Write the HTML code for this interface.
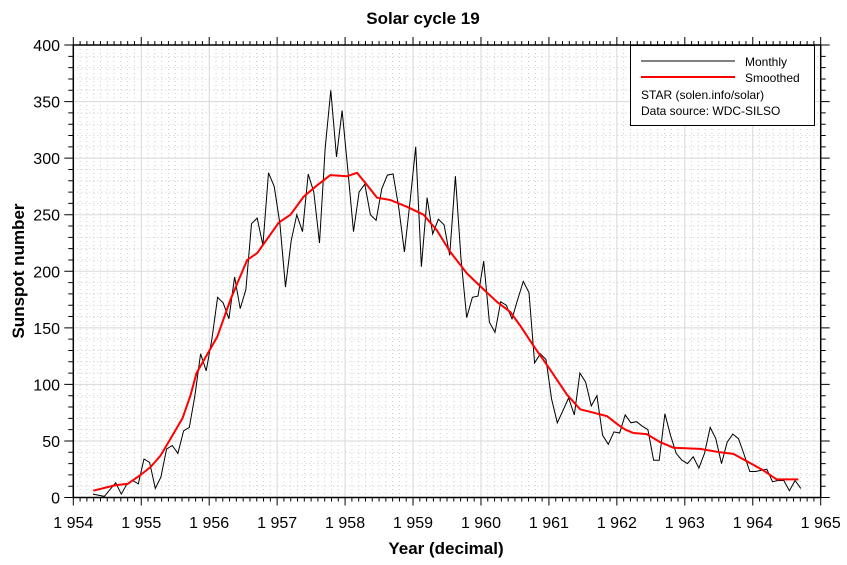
<!DOCTYPE html>
<html><head><meta charset="utf-8"><style>
body{margin:0;background:#fff;}
svg{display:block;font-family:"Liberation Sans",sans-serif;}
</style></head><body>
<svg id="chart" width="847" height="565" viewBox="0 0 847 565" xmlns="http://www.w3.org/2000/svg">
<text x="423" y="24" text-anchor="middle" font-size="17" font-weight="bold">Solar cycle 19</text>
<g id="grid"></g>
<g id="axes"></g>
<g id="series"></g>
<text x="446" y="554" text-anchor="middle" font-size="17" font-weight="bold">Year (decimal)</text>
<text transform="translate(24,271) rotate(-90)" text-anchor="middle" font-size="17" font-weight="bold">Sunspot number</text>
<g>
<rect x="630.5" y="45.5" width="184" height="80" fill="#fff" stroke="#000" stroke-width="1"/>
<line x1="641" y1="61" x2="735" y2="61" stroke="#000" stroke-width="1"/>
<text x="745" y="66" font-size="12">Monthly</text>
<line x1="641" y1="77" x2="735" y2="77" stroke="#f00" stroke-width="2"/>
<text x="745" y="82" font-size="12">Smoothed</text>
<text x="641" y="99" font-size="12">STAR (solen.info/solar)</text>
<text x="641" y="115" font-size="12">Data source: WDC-SILSO</text>
</g>
</svg>
<script>
const monthlyFirstYear = 1954.29;
const monthsPerYear = 12;
const monthlyValues = [3,2,1,7,13,3,12,15,12,34,31,8,18,43,46,39,59,62,90,127,112,140,177,172,158,195,167,184,242,247,223,287,275,242,186,227,250,235,286,270,225,309,360,301,342,290,235,270,277,250,245,273,285,286,256,217,262,310,204,265,233,246,241,214,284,211,159,177,178,209,155,146,173,170,158,175,191,181,119,127,122,87,66,77,88,73,110,102,81,90,55,47,58,57,73,66,67,63,60,33,33,74,55,39,33,30,36,26,39,62,52,30,49,56,52,38,23,23,24,25,14,15,15,6,15,8];
const smoothYears = [1954.294,1954.622,1954.799,1954.990,1955.137,1955.284,1955.431,1955.607,1955.724,1955.813,1956.118,1956.313,1956.559,1956.706,1957.024,1957.196,1957.391,1957.588,1957.784,1958.029,1958.176,1958.299,1958.471,1958.666,1958.912,1959.156,1959.353,1959.549,1959.794,1960.038,1960.235,1960.431,1960.578,1960.774,1961.019,1961.265,1961.460,1961.656,1961.853,1962.024,1962.122,1962.244,1962.441,1962.637,1962.832,1963.225,1963.519,1963.715,1963.912,1964.156,1964.353,1964.671];
const smoothValues = [6,11,12,20,27,37,52,70,90,110,142,175,210,216,243,250,266,276,285,284,287,278,265,263,257,250,236,217,198,184,173,164,152,134,113,91,78,75,72,64,60,57,56,49,44,43,40,38.5,32,24,16,16];
const xTickLabels = ["1 954","1 955","1 956","1 957","1 958","1 959","1 960","1 961","1 962","1 963","1 964","1 965"];
const yTickLabels = ["0","50","100","150","200","250","300","350","400"];

const NS="http://www.w3.org/2000/svg";
const L=73.3,R=820.7,T=45,B=497.5,X0=1954,X1=1965,Y0=0,Y1=400;
function xs(v){return L+(v-X0)/(X1-X0)*(R-L);}
function ys(v){return B-(v-Y0)/(Y1-Y0)*(B-T);}
function mk(tag,attrs,parent){const e=document.createElementNS(NS,tag);for(const k in attrs)e.setAttribute(k,attrs[k]);parent.appendChild(e);return e;}
const grid=document.getElementById('grid'),axes=document.getElementById('axes'),series=document.getElementById('series');
mk('rect',{x:L,y:T,width:R-L,height:B-T,fill:'#fff'},grid);
for(let i=1;i<110;i++){if(i%10===0)continue;const x=xs(X0+i/10);
 const l=mk('line',{x1:x,y1:T,x2:x,y2:B,stroke:'#ccc','stroke-width':1,'stroke-dasharray':'1,3'},grid);
 
 }
for(let v=10;v<400;v+=10){if(v%50===0)continue;const y=ys(v);
 const l=mk('line',{x1:L,y1:y,x2:R,y2:y,stroke:'#ccc','stroke-width':1,'stroke-dasharray':'1,3'},grid);
 
 }
xTickLabels.forEach((lab,i)=>{const x=xs(X0+i);
 if(i>0&&i<xTickLabels.length-1){const g=mk('line',{x1:x,y1:T,x2:x,y2:B,stroke:'#d8d8d8','stroke-width':1},grid);
 
 }
 const t=mk('text',{x:x,y:528,'text-anchor':'middle','font-size':16},axes);t.textContent=lab;
 
 });
yTickLabels.forEach((lab,i)=>{const v=i*50,y=ys(v);
 if(i>0&&i<yTickLabels.length-1){const g=mk('line',{x1:L,y1:y,x2:R,y2:y,stroke:'#d8d8d8','stroke-width':1},grid);
 
 }
 const t=mk('text',{x:60,y:y+6,'text-anchor':'end','font-size':16},axes);t.textContent=lab;
 
 });
let d='';
for(let i=0;i<=110;i++){const x=xs(X0+i/10),len=(i%10===0)?8:4;d+=`M${x},${B}v${len}M${x},${T}v${-len}`;}
for(let v=0;v<=400;v+=10){const y=ys(v),len=(v%50===0)?9:5;d+=`M${L},${y}h${-len}M${R},${y}h${len}`;}
const tk=mk('path',{d:d,stroke:'#000','stroke-width':1,fill:'none'},axes);


const fr=mk('rect',{x:L,y:T,width:R-L,height:B-T,fill:'none',stroke:'#000','stroke-width':1.5},axes);


const mp=monthlyValues.map((v,i)=>xs(monthlyFirstYear+i/monthsPerYear).toFixed(1)+','+ys(v).toFixed(1)).join(' ');
const ml=mk('polyline',{points:mp,fill:'none',stroke:'#000','stroke-width':1},series);


const sp=smoothValues.map((v,i)=>xs(smoothYears[i]).toFixed(1)+','+ys(v).toFixed(1)).join(' ');
const sl=mk('polyline',{points:sp,fill:'none',stroke:'#f00','stroke-width':2,'stroke-linejoin':'round'},series);


</script>
</body></html>
